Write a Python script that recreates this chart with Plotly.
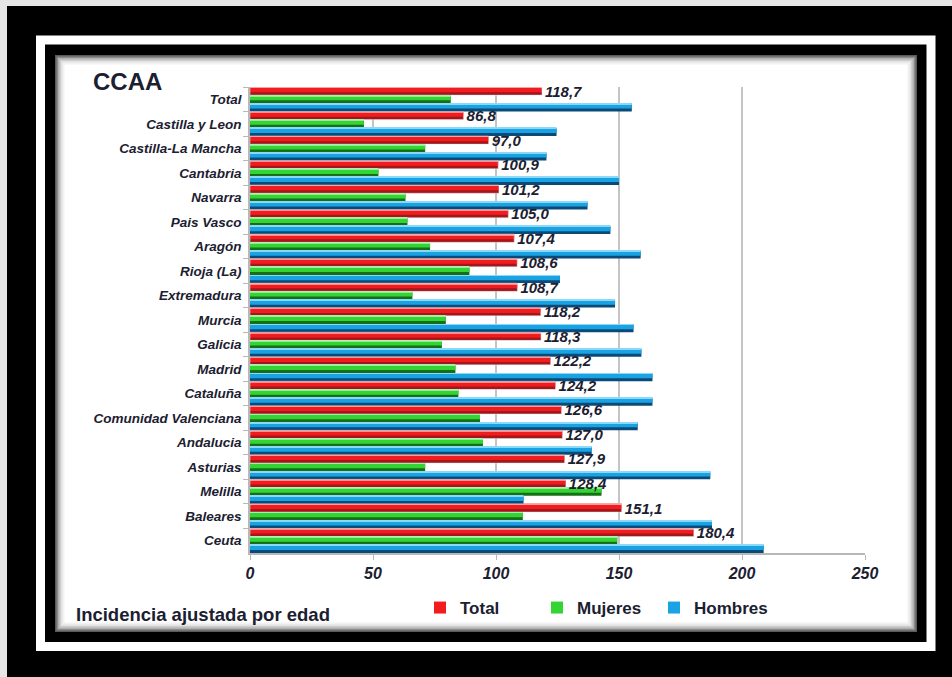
import plotly.graph_objects as go

regiones = ['Total', 'Castilla y Leon', 'Castilla-La Mancha', 'Cantabria', 'Navarra',
            'Pais Vasco', 'Aragón', 'Rioja (La)', 'Extremadura', 'Murcia', 'Galicia',
            'Madrid', 'Cataluña', 'Comunidad Valenciana', 'Andalucia', 'Asturias',
            'Melilla', 'Baleares', 'Ceuta']
total = [118.7, 86.8, 97.0, 100.9, 101.2, 105.0, 107.4, 108.6, 108.7, 118.2, 118.3,
         122.2, 124.2, 126.6, 127.0, 127.9, 128.4, 151.1, 180.4]
mujeres = [81.6, 46.3, 71.2, 52.2, 63.2, 64.0, 73.2, 89.2, 66.0, 79.6, 78.0,
           83.5, 84.7, 93.5, 94.7, 71.2, 142.9, 110.9, 149.3]
hombres = [155.2, 124.6, 120.5, 150.0, 137.2, 146.5, 158.8, 126.0, 148.4, 155.9, 159.1,
           163.6, 163.6, 157.6, 138.9, 187.1, 111.2, 187.8, 208.8]
x_ticks = [0, 50, 100, 150, 200, 250]

W, H = 952, 677
ML, MR, MT, MB = 250, 87, 87, 124
PW, PH = W - ML - MR, H - MT - MB

FONT = 'Liberation Sans Narrow, Arial Narrow, Liberation Sans, Arial, sans-serif'
INK = '#1b2030'

# (name, values, dark, bright, highlight)
series = [
    ('Total', total, '#a3161a', '#f21c1f', '#ff8a8a'),
    ('Mujeres', mujeres, '#166f16', '#33d433', '#8cf08c'),
    ('Hombres', hombres, '#0b4a78', '#1aa3e2', '#8ad8fa'),
]


def px(x):
    return (x - ML) / PW


def py(y):
    return (MT + PH - y) / PH


fig = go.Figure()
slot = 1 / 3
for k, (name, vals, dark, bright, hi) in enumerate(series):
    top = -0.5 + k * slot
    fig.add_trace(go.Bar(y=regiones, x=vals, orientation='h', name=name,
                         offset=top, width=slot - 0.005,
                         marker=dict(color=dark, line=dict(width=0)),
                         showlegend=False, hoverinfo='skip'))
    fig.add_trace(go.Bar(y=regiones, x=vals, orientation='h', name=name,
                         offset=top + 0.03, width=0.18,
                         marker=dict(color=bright, line=dict(width=0)),
                         showlegend=True, legendrank=k))
    fig.add_trace(go.Bar(y=regiones, x=vals, orientation='h', name=name,
                         offset=top, width=0.035,
                         marker=dict(color=hi, line=dict(width=0)),
                         showlegend=False, hoverinfo='skip'))

# value labels for Total, drawn last so they sit on top
labels = [f'{v:.1f}'.replace('.', ',') for v in total]
fig.add_trace(go.Bar(y=regiones, x=total, orientation='h', offset=-0.5, width=slot,
                     marker=dict(color='rgba(0,0,0,0)'), text=labels,
                     textposition='outside', constraintext='none', cliponaxis=False,
                     textfont=dict(family=FONT, size=15, color=INK, weight='bold', style='italic'),
                     showlegend=False, hoverinfo='skip'))

shapes = []
# thin light strips at the top and left edge of the picture
shapes.append(dict(type='rect', xref='paper', yref='paper', x0=px(0), x1=px(W), y0=py(0), y1=py(6),
                   fillcolor='#e6e6e6', line=dict(width=0), layer='below'))
shapes.append(dict(type='rect', xref='paper', yref='paper', x0=px(0), x1=px(7), y0=py(0), y1=py(H),
                   fillcolor='#e6e6e6', line=dict(width=0), layer='below'))
# white frame strip
shapes.append(dict(type='rect', xref='paper', yref='paper', x0=px(40.5), x1=px(931), y0=py(40), y1=py(646.5),
                   fillcolor='rgba(0,0,0,0)', line=dict(color='white', width=9), layer='below'))
# white content panel with soft inner shadow
shade = ['#5a5a5a', '#8a8a8a', '#b0b0b0', '#cdcdcd', '#e2e2e2', '#f2f2f2']
shapes.append(dict(type='rect', xref='paper', yref='paper', x0=px(55), x1=px(917), y0=py(55), y1=py(632),
                   fillcolor='white', line=dict(width=0), layer='below'))
for i, c in enumerate(shade):
    d = 1 + i * 1.5
    shapes.append(dict(type='rect', xref='paper', yref='paper', x0=px(55 + d), x1=px(917 - d),
                       y0=py(55 + d), y1=py(632 - d), fillcolor='rgba(0,0,0,0)',
                       line=dict(color=c, width=2), layer='below'))
fig.update_layout(shapes=shapes)

fig.add_annotation(text='CCAA', xref='paper', yref='paper', x=px(91), y=py(82),
                   xanchor='left', yanchor='middle', showarrow=False,
                   font=dict(family='Liberation Sans, Arial, sans-serif', size=24, color=INK, weight='bold'))
fig.add_annotation(text='Incidencia ajustada por edad', xref='paper', yref='paper', x=px(74), y=py(614),
                   xanchor='left', yanchor='middle', showarrow=False,
                   font=dict(family=FONT, size=18.5, color=INK, weight='bold'))

fig.update_xaxes(range=[0, 250], tickvals=x_ticks, showgrid=True, gridcolor='#c4c4c4', gridwidth=1.5,
                 zeroline=False, showline=True, linecolor='#b8b8b8', linewidth=1.5,
                 ticks='outside', ticklen=5, tickcolor='#b8b8b8',
                 tickfont=dict(family=FONT, size=16, color=INK, weight='bold', style='italic'))
fig.update_yaxes(autorange=False, range=[len(regiones) - 0.5, -0.5], showgrid=False,
                 showline=True, linecolor='#b8b8b8', linewidth=1.5,
                 ticks='outside', ticklen=5, tickcolor='#b8b8b8', tickson='boundaries',
                 ticklabelstandoff=4,
                 tickfont=dict(family=FONT, size=13.5, color=INK, weight='bold', style='italic'))

fig.update_layout(
    width=W, height=H, barmode='overlay',
    margin=dict(l=ML, r=MR, t=MT, b=MB, pad=0),
    paper_bgcolor='black', plot_bgcolor='rgba(0,0,0,0)',
    legend=dict(orientation='h', x=px(420), y=py(608), xanchor='left', yanchor='middle',
                bgcolor='rgba(0,0,0,0)', entrywidth=72, traceorder='normal',
                font=dict(family=FONT, size=17, color=INK, weight='bold')),
)

fig.write_html('out.html', config={'displayModeBar': False},
               post_script="document.body.style.margin='0';")
